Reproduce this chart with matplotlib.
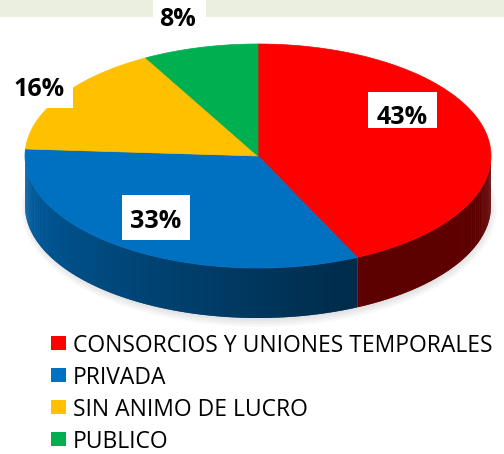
import numpy as np
import matplotlib
matplotlib.use("Agg")
import matplotlib.pyplot as plt
from matplotlib.patches import Polygon, Rectangle, Ellipse
from matplotlib.collections import PolyCollection
from matplotlib.colors import to_rgb

# ---------------------------------------------------------------------------
# Data
# ---------------------------------------------------------------------------
categories = ["CONSORCIOS Y UNIONES TEMPORALES", "PRIVADA", "SIN ANIMO DE LUCRO", "PUBLICO"]
values = [43, 33, 16, 8]
labels = ["43%", "33%", "16%", "8%"]
colors = ["#FF0000", "#0070C0", "#FFC000", "#00B050"]

# label text centres and white boxes (x0, y0, x1, y1) in pixels
label_pos = [(402, 115), (156, 218), (39, 87), (178, 17)]
label_box = [(368, 92, 437, 128), (122, 195, 190, 240), (5, 66, 73, 108), (153, 0, 206, 32)]

# ---------------------------------------------------------------------------
# Geometry of the tilted pie (pixel space)
# ---------------------------------------------------------------------------
CX, CY = 258, 156
RX, RY = 233, 112
DEPTH = 50

fig = plt.figure(figsize=(5.04, 4.54), dpi=100)
ax = fig.add_axes([0, 0, 1, 1])
ax.set_xlim(0, 504)
ax.set_ylim(454, 0)
ax.axis("off")

# light strip at the top
ax.add_patch(Rectangle((0, 0), 504, 16.5, color="#EBEFE0", lw=0, zorder=0))


def pt(t):
    return CX + RX * np.cos(t), CY - RY * np.sin(t)


# soft shadow
for k in range(6):
    ax.add_patch(Ellipse((CX + 1, CY + DEPTH + 3), 2 * RX + 10 - k * 3, 2 * RY + 12 - k * 3,
                         color="grey", alpha=0.04, lw=0, zorder=1))

# slice angles (degrees, clockwise from top)
fracs = np.array(values) / sum(values)
starts = 90 - 360 * np.concatenate([[0], np.cumsum(fracs)[:-1]])
ends = starts - 360 * fracs


def shade(tdeg):
    # darken toward the right front
    tdeg = tdeg % 360
    if tdeg < 180:
        return 0.88
    if tdeg < 300:
        return 0.86 - 0.5 * (tdeg - 180) / 120
    return 0.36 + 0.02 * (tdeg - 300) / 60


# side walls
quads, qcols = [], []
for s, e, c in zip(starts, ends, colors):
    lo, hi = e, s
    for off in (0, -360, 360):
        a, b = max(lo + off, 180), min(hi + off, 360)
        if b <= a:
            continue
        ts = np.linspace(a, b, max(int((b - a) * 2), 2))
        rgb = np.array(to_rgb(c))
        for t1, t2 in zip(ts[:-1], ts[1:]):
            t2e = min(t2 + 0.4, b)
            x1, y1 = pt(np.radians(t1))
            x2, y2 = pt(np.radians(t2e))
            quads.append([(x1, y1), (x2, y2), (x2, y2 + DEPTH), (x1, y1 + DEPTH)])
            qcols.append(np.clip(rgb * shade((t1 + t2) / 2), 0, 1))
ax.add_collection(PolyCollection(quads, facecolors=qcols, edgecolors="none", zorder=2))

# top faces
for s, e, c in zip(starts, ends, colors):
    ts = np.radians(np.linspace(s, e, 200))
    xs, ys = pt(ts)
    verts = [(CX, CY)] + list(zip(xs, ys))
    ax.add_patch(Polygon(verts, closed=True, facecolor=c, edgecolor=c, lw=0.5, zorder=3))

# data labels
for (x, y), (x0, y0, x1, y1), txt in zip(label_pos, label_box, labels):
    ax.add_patch(Rectangle((x0, y0), x1 - x0, y1 - y0, color="white", lw=0, zorder=4))
    ax.text(x, y, txt, ha="center", va="center_baseline", fontsize=18, fontweight="bold",
            family="Open Sans", color="black", zorder=5)

# legend
for i, (name, c) in enumerate(zip(categories, colors)):
    y = 343 + i * 32
    ax.add_patch(Rectangle((51, y - 7), 15, 14, color=c, lw=0, zorder=4))
    ax.text(73, y, name, ha="left", va="center_baseline", fontsize=16.5, family="Open Sans",
            color="black", zorder=4)

fig.savefig("out.png", dpi=100)
